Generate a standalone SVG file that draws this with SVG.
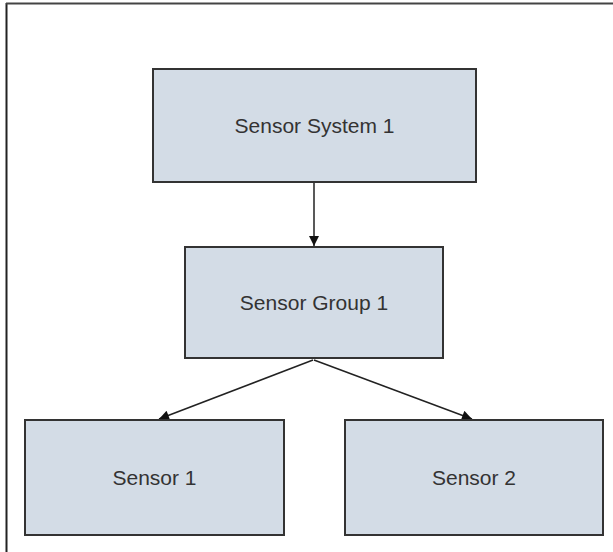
<svg xmlns="http://www.w3.org/2000/svg" width="613" height="552" viewBox="0 0 613 552">
<defs>
<style>
.box{fill:#d3dce6;stroke:#333;stroke-width:2}
.lbl{font-family:"Liberation Sans",Arial,sans-serif;font-size:21px;fill:#333;text-anchor:middle}
.conn{stroke:#222;stroke-width:1.5;fill:none;marker-end:url(#arr)}
</style>
<marker id="arr" viewBox="0 0 10 10" refX="10" refY="5" markerWidth="11" markerHeight="10" markerUnits="userSpaceOnUse" orient="auto"><path d="M0,0 L10,5 L0,10 z" fill="#111"/></marker>
</defs>
<rect width="613" height="552" fill="#fff"/>
<line x1="6.5" y1="3" x2="6.5" y2="552" stroke="#222" stroke-width="2"/>
<line x1="6" y1="3.5" x2="613" y2="3.5" stroke="#444" stroke-width="2"/>
<g id="connectors">
<line class="conn" x1="314" y1="182" x2="314" y2="246"/>
<line class="conn" x1="313" y1="360" x2="159" y2="419"/>
<line class="conn" x1="314" y1="360" x2="472" y2="419"/>
</g>
<g id="sensor-system-1"><rect class="box" x="153" y="69" width="323" height="113"/><text class="lbl" x="314.5" y="133">Sensor System 1</text></g>
<g id="sensor-group-1"><rect class="box" x="185" y="247" width="258" height="111"/><text class="lbl" x="314" y="310">Sensor Group 1</text></g>
<g id="sensor-1"><rect class="box" x="25" y="420" width="259" height="115"/><text class="lbl" x="154.5" y="485">Sensor 1</text></g>
<g id="sensor-2"><rect class="box" x="345" y="420" width="258" height="115"/><text class="lbl" x="474" y="485">Sensor 2</text></g>
</svg>
